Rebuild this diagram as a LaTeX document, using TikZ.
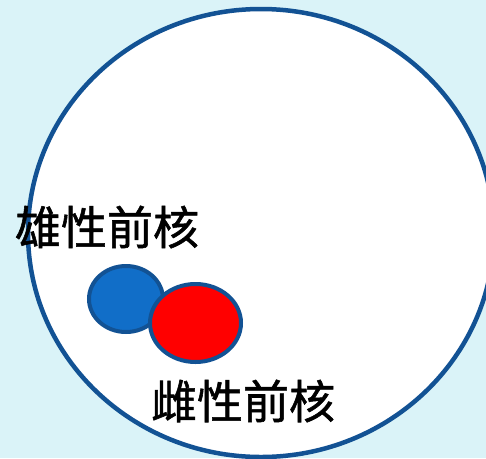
\documentclass[tikz,border=0pt]{standalone}
\usepackage{fontspec}
\usepackage{tikz}
\newfontfamily\cjk[FakeBold=1.2]{Noto Sans CJK SC}
\definecolor{bgcyan}{RGB}{218,243,248}
\definecolor{rimblue}{RGB}{18,82,148}
\definecolor{maleblue}{RGB}{17,110,200}
\tikzset{label/.style={font=\cjk\fontsize{46}{50}\selectfont, text=black, inner sep=0pt}}

\begin{document}
\begin{tikzpicture}[x=1pt, y=-1pt]       % cell with two pronuclei
    \fill[bgcyan] (0, 0) rectangle (486, 458);
    \clip (0, 0) rectangle (486, 458);
    \draw[rimblue, fill=white, line width=4.5pt] (261, 233) ellipse [x radius=233, y radius=224];

    \draw[rimblue, fill=maleblue, line width=4pt] (126, 299) ellipse [x radius=37, y radius=33];
    \draw[rimblue, fill=red, line width=4pt] (195.5, 323) ellipse [x radius=45.5, y radius=39];

    \node[label] at (107, 227) (male) {雄性前核};
    \node[label] at (243, 401) (female) {雌性前核};
  \end{tikzpicture}
\end{document}
